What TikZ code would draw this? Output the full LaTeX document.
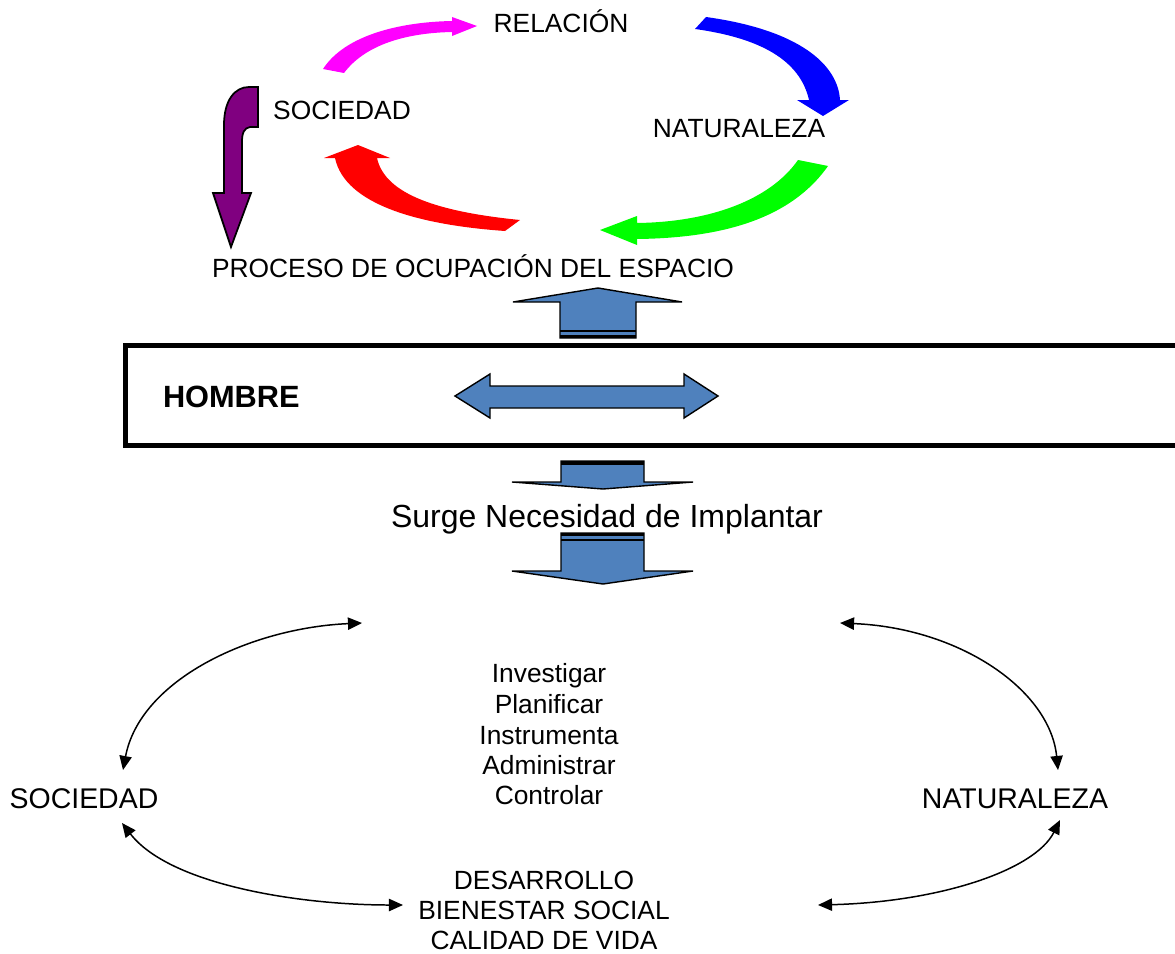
\documentclass[tikz,border=0pt]{standalone}
\usepackage{fontspec}
\setmainfont{Liberation Sans}
\usetikzlibrary{arrows.meta}
\definecolor{blockblue}{HTML}{4F81BD}
\definecolor{purp}{HTML}{800080}
\definecolor{magpure}{RGB}{255,0,255}
\definecolor{bluepure}{RGB}{0,0,255}
\definecolor{greenpure}{RGB}{0,255,0}
\definecolor{redpure}{RGB}{255,0,0}
\begin{document}
\begin{tikzpicture}[x=0.02cm,y=-0.02cm,
  lbl/.style={inner sep=0pt, outer sep=0pt, anchor=base, font=\fontsize{15}{18}\selectfont},
  biglbl/.style={lbl, font=\fontsize{16.2}{19}\selectfont},
  blockarrow/.style={fill=blockblue, draw=black, line width=0.8pt, line join=miter},
  twoway/.style={draw=black, line width=0.85pt, {Triangle[length=8pt,width=7pt]}-{Triangle[length=8pt,width=7pt]}},
  tick/.style={line cap=butt},
]
\useasboundingbox (0,0) rectangle (1175,953);
\clip (0,0) rectangle (1175,953);

% ---- top cycle texts
\node[lbl] (rel) at (561,33) {RELACIÓN};
\node[lbl] (soc1) at (342,119) {SOCIEDAD};
\node[lbl] (nat1) at (739,137) {NATURALEZA};
\node[lbl] (proc) at (473,277) {PROCESO DE OCUPACIÓN DEL ESPACIO};

% ---- colored curved arrows
\fill[magpure] (323,69) .. controls (345,35) and (400,22) .. (452,21) -- (452,17) -- (477,26) -- (452,36) -- (452,32) .. controls (405,33) and (365,45) .. (344,73) -- cycle;
\fill[bluepure] (706,17) .. controls (800,30) and (838,65) .. (840,100) -- (849,100) -- (823,116) -- (797,100) -- (809,100) .. controls (800,60) and (760,38) .. (695,29) -- cycle;
\fill[greenpure] (828,166) .. controls (790,220) and (720,238) .. (637,239) -- (637,245) -- (600,230) -- (637,216) -- (637,223) .. controls (710,222) and (770,200) .. (798,160) -- cycle;
\fill[redpure] (505,231) .. controls (420,225) and (345,205) .. (335,158) -- (324,158) -- (358,145) -- (390,158) -- (377,158) .. controls (385,195) and (440,212) .. (520,220) -- cycle;
\filldraw[fill=purp, draw=black, line width=1pt, line join=miter] (249,87) -- (258,87) -- (258,127) -- (250,127) .. controls (244,128) and (242,133) .. (242,142) -- (242,193) -- (251,193) -- (231,247) -- (213,193) -- (224,193) -- (224,125) .. controls (224,100) and (235,87) .. (249,87) -- cycle;

% ---- HOMBRE box
\node[draw=black, line width=2.8pt, inner sep=0pt, outer sep=0pt, minimum width=21.29cm, minimum height=2cm] (hbox) at (657.75,395.5) {};
\node[lbl, anchor=base west, font=\fontsize{17.5}{20}\selectfont\bfseries] (hombre) at (163,407) {HOMBRE};

% ---- block arrows
\path[blockarrow] (560,338) -- (560,302) -- (513,302) -- (598,288) -- (682,302) -- (636,302) -- (636,338) -- cycle;
\draw[line width=0.6pt] (560,331) -- (636,331);
\draw[line width=2.2pt, tick] (560,336.5) -- (636,336.5);

\path[blockarrow] (455,396) -- (490,374) -- (490,386) -- (684,386) -- (684,374) -- (718,396) -- (684,418) -- (684,408) -- (490,408) -- (490,418) -- cycle;

\path[blockarrow] (561,461) -- (644,461) -- (644,482) -- (693,482) -- (603,489) -- (512,482) -- (561,482) -- cycle;
\draw[line width=2.6pt, tick] (561,463) -- (644,463);

\node[lbl, font=\fontsize{18.2}{22}\selectfont] (surge) at (607,527) {Surge Necesidad de Implantar};

\path[blockarrow] (561,533) -- (644,533) -- (644,571) -- (693,571) -- (603,584) -- (512,571) -- (561,571) -- cycle;
\draw[line width=1.8pt, tick] (561,534.5) -- (644,534.5);
\draw[line width=1.4pt, tick] (561,540) -- (644,540);

% ---- lower texts
\node[lbl] (inv) at (549,682) {Investigar};
\node[lbl] (pla) at (549,713) {Planificar};
\node[lbl] (ins) at (549,744) {Instrumenta};
\node[lbl] (adm) at (549,774) {Administrar};
\node[lbl] (con) at (549,804) {Controlar};

\node[biglbl] (soc2) at (84,808) {SOCIEDAD};
\node[biglbl] (nat2) at (1015,808) {NATURALEZA};

\node[lbl] (des) at (544,889) {DESARROLLO};
\node[lbl] (bie) at (544,919) {BIENESTAR SOCIAL};
\node[lbl] (cal) at (544,949) {CALIDAD DE VIDA};

% ---- thin double arrows
\coordinate (tl) at (362,623);
\coordinate (sl) at (123,770);
\coordinate (sb) at (122,823);
\coordinate (bl) at (403,905);
\coordinate (tr) at (840,623);
\coordinate (nt) at (1058,770);
\coordinate (br) at (818,905);
\coordinate (nb) at (1060,820);

\draw[twoway] (sl) .. controls (140,680) and (250,628) .. (tl);
\draw[twoway] (sb) .. controls (170,885) and (300,905) .. (bl);
\draw[twoway] (tr) .. controls (960,628) and (1050,690) .. (nt);
\draw[twoway] (br) .. controls (940,902) and (1035,870) .. (nb);
\end{tikzpicture}
\end{document}
